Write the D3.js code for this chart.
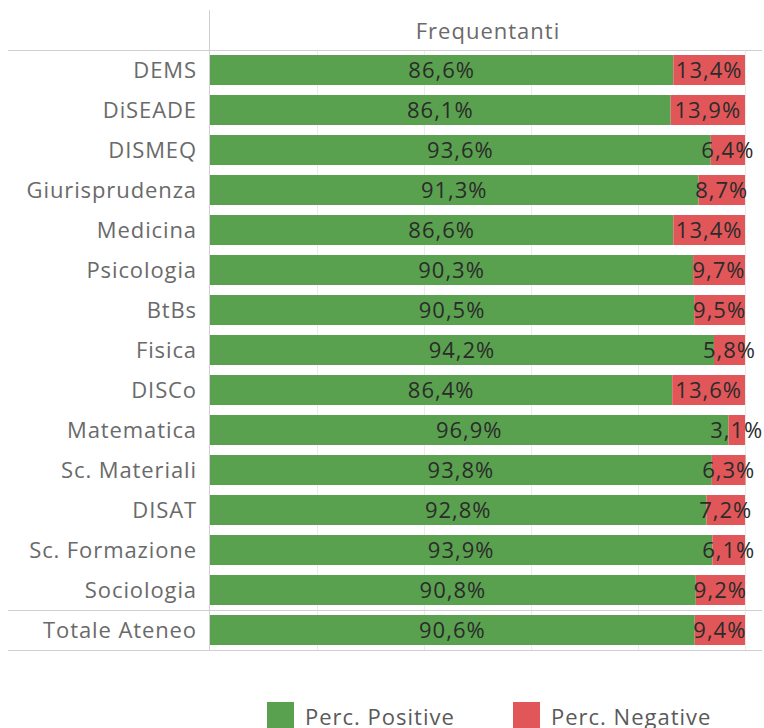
<!DOCTYPE html>
<html>
<head>
<meta charset="utf-8">
<script src="https://cdn.jsdelivr.net/npm/d3@7"></script>
<style>
  body { margin: 0; background: #fff; }
  svg { display: block; font-family: "Open Sans", sans-serif; }
</style>
</head>
<body>
<svg id="chart" width="764" height="728"></svg>
<script>
// Chart data
const categories = [
  'DEMS', 'DiSEADE', 'DISMEQ', 'Giurisprudenza', 'Medicina', 'Psicologia', 'BtBs',
  'Fisica', 'DISCo', 'Matematica', 'Sc. Materiali', 'DISAT', 'Sc. Formazione',
  'Sociologia', 'Totale Ateneo',
];
const positive = [86.6, 86.1, 93.6, 91.3, 86.6, 90.3, 90.5, 94.2, 86.4, 96.9, 93.8, 92.8, 93.9, 90.8, 90.6];
const negative = [13.4, 13.9, 6.4, 8.7, 13.4, 9.7, 9.5, 5.8, 13.6, 3.1, 6.3, 7.2, 6.1, 9.2, 9.4];
const seriesNames = ['Perc. Positive', 'Perc. Negative'];
const colors = ['#59a14f', '#e15759'];
const header = 'Frequentanti';

const svg = d3.select('#chart');
const plotLeft = 210, plotRight = 745;
const plotTop = 50, rowH = 40;

const x = d3.scaleLinear().domain([0, 100]).range([plotLeft, plotRight]);
const y = d3.scaleBand()
  .domain(categories)
  .range([plotTop, plotTop + rowH * categories.length])
  .paddingInner(0.25)
  .paddingOuter(0.125);

const fmt = (v) => d3.format('.1f')(v).replace('.', ',') + '%';

// Grid lines
svg.append('g')
  .selectAll('line')
  .data([20, 40, 60, 80, 100])
  .join('line')
    .attr('x1', (d) => Math.round(x(d)) + 0.5)
    .attr('x2', (d) => Math.round(x(d)) + 0.5)
    .attr('y1', plotTop)
    .attr('y2', plotTop + rowH * categories.length)
    .attr('stroke', '#ebebeb');

// Stacked bars
const rows = categories.map((c, i) => ({cat: c, pos: positive[i], neg: negative[i]}));
const stack = d3.stack().keys(['pos', 'neg'])(rows);

const layer = svg.append('g')
  .selectAll('g')
  .data(stack)
  .join('g')
    .attr('fill', (d, i) => colors[i]);

layer.selectAll('rect')
  .data((d) => d)
  .join('rect')
    .attr('x', (d) => x(d[0]))
    .attr('y', (d) => y(d.data.cat))
    .attr('width', (d) => x(d[1]) - x(d[0]))
    .attr('height', y.bandwidth());

layer.selectAll('text')
  .data((d) => d.map((e) => Object.assign(e, {key: d.key})))
  .join('text')
    .attr('x', (d) => (x(d[0]) + x(d[1])) / 2)
    .attr('y', (d) => y(d.data.cat) + y.bandwidth() / 2)
    .attr('dy', '0.36em')
    .attr('text-anchor', 'middle')
    .attr('fill', '#2b2b2b')
    .attr('font-size', 22)
    .attr('letter-spacing', 1)
    .text((d) => fmt(d.data[d.key]));

// Category labels
svg.append('g')
  .selectAll('text')
  .data(categories)
  .join('text')
    .attr('x', 197)
    .attr('y', (d) => y(d) + y.bandwidth() / 2)
    .attr('dy', '0.36em')
    .attr('text-anchor', 'end')
    .attr('fill', '#6a6a6a')
    .attr('font-size', 22)
    .attr('letter-spacing', 0.9)
    .text((d) => d);

// Frame lines
const frame = svg.append('g').attr('stroke', '#d0d0d0');
frame.append('line').attr('x1', 209.5).attr('x2', 209.5).attr('y1', 10).attr('y2', 651);
[plotTop, plotTop + rowH * (categories.length - 1), plotTop + rowH * categories.length].forEach((yy) => {
  frame.append('line').attr('x1', 8).attr('x2', 762).attr('y1', yy + 0.5).attr('y2', yy + 0.5);
});

// Header
svg.append('text')
  .attr('x', 488)
  .attr('y', 31)
  .attr('dy', '0.36em')
  .attr('text-anchor', 'middle')
  .attr('fill', '#6a6a6a')
  .attr('font-size', 22)
  .attr('letter-spacing', 1)
  .text(header);

// Legend
const legend = svg.append('g')
  .selectAll('g')
  .data(seriesNames)
  .join('g')
    .attr('transform', (d, i) => `translate(${267 + i * 246}, 702)`);
legend.append('rect').attr('width', 27).attr('height', 26).attr('fill', (d, i) => colors[i]);
legend.append('text')
  .attr('x', 38)
  .attr('y', 23)
  .attr('fill', '#5a5a5a')
  .attr('font-size', 22)
  .attr('letter-spacing', 1)
  .text((d) => d);
</script>
</body>
</html>
